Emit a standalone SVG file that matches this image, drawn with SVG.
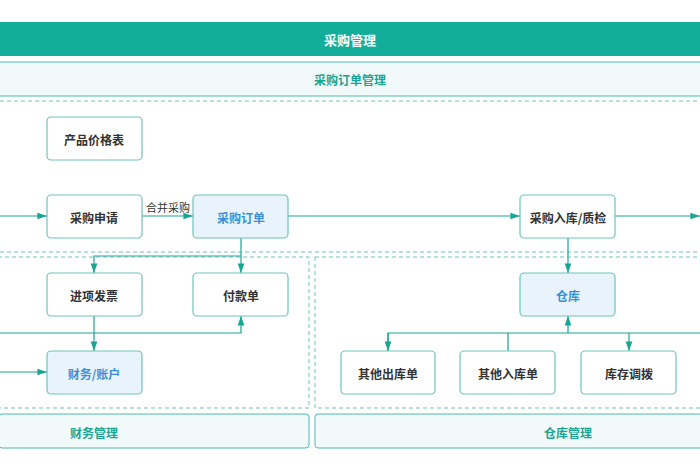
<svg xmlns="http://www.w3.org/2000/svg" width="700" height="470" viewBox="0 0 700 470">
<style>
text{font-family:"Noto Sans CJK SC","Liberation Sans",sans-serif;font-size:12px;font-weight:bold;text-anchor:middle;dominant-baseline:central}
.n rect{fill:#fff;stroke:#6cc5b8;stroke-width:1.2}
.n text{fill:#333}
.b rect{fill:#e8f3fb}
.b text{fill:#3a8fd8}
.bar{fill:#f1f9fb;stroke:#4dbcae;stroke-width:1}
.bt{fill:#1aa593}
.dash{fill:none;stroke:#6cc5b8;stroke-dasharray:4 3;stroke-width:1}
#c path{fill:none;stroke:#1aa593;stroke-width:1.2}
</style>
<defs><marker id="a" viewBox="0 0 10 10" refX="10" refY="5" markerWidth="8" markerHeight="8" orient="auto"><path d="M0,1.5L10,5L0,8.5Z" fill="#1aa593"/></marker></defs>
<rect width="700" height="470" fill="#fff"/>
<g id="top"><rect x="0" y="22" width="700" height="34" fill="#12ae9a"/><text x="350" y="39" fill="#fff" style="font-size:13px">采购管理</text></g>
<g id="orderbar"><rect class="bar" x="-1" y="62" width="702" height="34"/><text class="bt" x="350" y="79">采购订单管理</text></g>
<path class="dash" d="M0 101H700M0 252H700"/>
<rect class="dash" x="-2" y="257" width="311" height="151"/>
<rect class="dash" x="315" y="257" width="390" height="151"/>
<g id="finbar"><rect class="bar" x="-1" y="414" width="310" height="34" rx="3"/><text class="bt" x="94" y="432">财务管理</text></g>
<g id="whbar"><rect class="bar" x="315" y="414" width="390" height="34" rx="3"/><text class="bt" x="568" y="432">仓库管理</text></g>
<g id="c">
<path d="M0 216H47" marker-end="url(#a)"/>
<path d="M142 216H193" marker-end="url(#a)"/>
<path d="M288 216H520" marker-end="url(#a)"/>
<path d="M615 216H700" marker-end="url(#a)"/>
<path d="M241 238V273" marker-end="url(#a)"/>
<path d="M241 256H94V273" marker-end="url(#a)"/>
<path d="M94 316V351" marker-end="url(#a)"/>
<path d="M0 333H241V316" marker-end="url(#a)"/>
<path d="M0 372H47" marker-end="url(#a)"/>
<path d="M568 238V273" marker-end="url(#a)"/>
<path d="M568 333V316" marker-end="url(#a)"/>
<path d="M388 351V333H700"/>
<path d="M388 333V351" marker-end="url(#a)"/>
<path d="M508 333V351"/>
<path d="M629 333V351" marker-end="url(#a)"/>
</g>
<text x="168" y="207" style="font-weight:normal;font-size:11px;fill:#333">合并采购</text>
<g id="price" class="n"><rect x="47" y="117" width="95" height="43" rx="4"/><text x="94" y="139">产品价格表</text></g>
<g id="req" class="n"><rect x="47" y="195" width="95" height="43" rx="4"/><text x="94" y="217">采购申请</text></g>
<g id="order" class="n b"><rect x="193" y="195" width="95" height="43" rx="4"/><text x="241" y="217">采购订单</text></g>
<g id="inbound" class="n"><rect x="520" y="195" width="95" height="43" rx="4"/><text x="568" y="217">采购入库/质检</text></g>
<g id="invoice" class="n"><rect x="47" y="273" width="95" height="43" rx="4"/><text x="94" y="295">进项发票</text></g>
<g id="pay" class="n"><rect x="193" y="273" width="95" height="43" rx="4"/><text x="241" y="295">付款单</text></g>
<g id="acct" class="n b"><rect x="47" y="351" width="95" height="43" rx="4"/><text x="94" y="373">财务/账户</text></g>
<g id="wh" class="n b"><rect x="520" y="273" width="95" height="43" rx="4"/><text x="568" y="295">仓库</text></g>
<g id="out" class="n"><rect x="341" y="351" width="94" height="43" rx="4"/><text x="388" y="373">其他出库单</text></g>
<g id="in" class="n"><rect x="460" y="351" width="95" height="43" rx="4"/><text x="508" y="373">其他入库单</text></g>
<g id="move" class="n"><rect x="581" y="351" width="95" height="43" rx="4"/><text x="629" y="373">库存调拨</text></g>
</svg>
